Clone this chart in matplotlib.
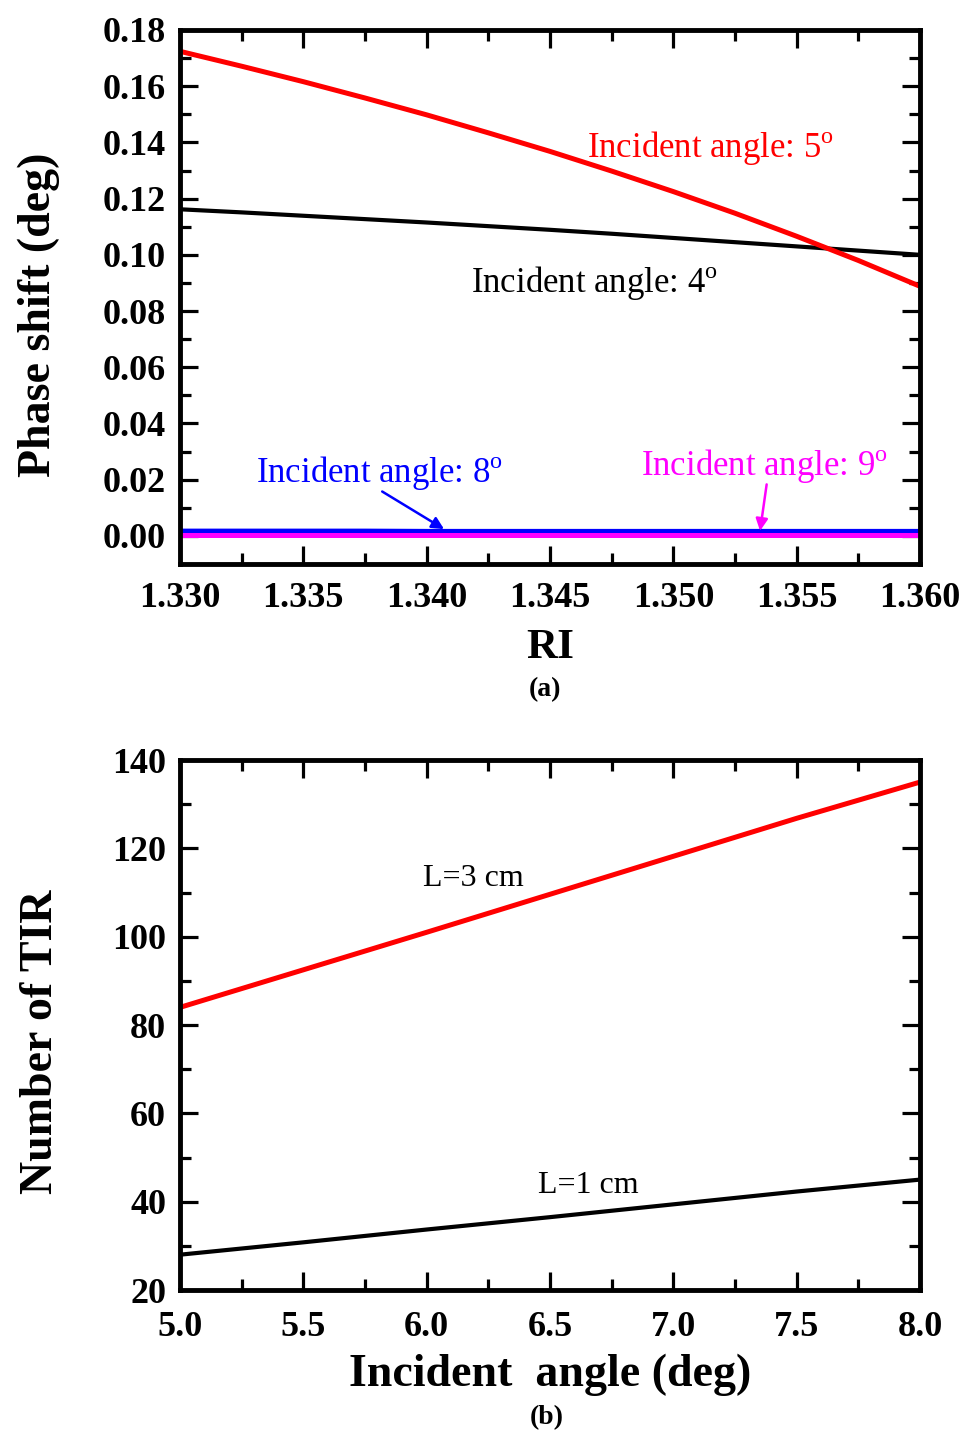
import numpy as np
import matplotlib
matplotlib.use("Agg")
import matplotlib.pyplot as plt
from matplotlib.ticker import MultipleLocator, FormatStrFormatter

plt.rcParams['font.family'] = ['Liberation Serif', 'DejaVu Serif']
plt.rcParams['mathtext.fontset'] = 'custom'
plt.rcParams['mathtext.rm'] = 'Liberation Serif'

# (a) phase shift vs refractive index
ri = [1.3300, 1.3325, 1.3350, 1.3375, 1.3400, 1.3425, 1.3450,
      1.3475, 1.3500, 1.3525, 1.3550, 1.3575, 1.3600]
phase_4 = [0.1162, 0.1151, 0.1139, 0.1127, 0.1115, 0.1102, 0.1089,
           0.1075, 0.1060, 0.1045, 0.1030, 0.1015, 0.1000]
phase_5 = [0.1724, 0.1671, 0.1616, 0.1558, 0.1498, 0.1434, 0.1368,
           0.1298, 0.1225, 0.1148, 0.1066, 0.0980, 0.0888]
phase_8 = [0.0017, 0.0017, 0.0017, 0.0017, 0.0016, 0.0016, 0.0016,
           0.0016, 0.0016, 0.0016, 0.0016, 0.0016, 0.0016]
phase_9 = [0.0002, 0.0002, 0.0002, 0.0002, 0.0002, 0.0002, 0.0002,
           0.0002, 0.0002, 0.0002, 0.0002, 0.0002, 0.0002]

# (b) number of total internal reflections vs incident angle
angle = [5.0, 5.5, 6.0, 6.5, 7.0, 7.5, 8.0]
tir_3cm = [84.0, 92.5, 101.0, 109.6, 118.2, 126.8, 135.0]
tir_1cm = [28.0, 30.8, 33.7, 36.5, 39.4, 42.3, 45.0]

fig = plt.figure(figsize=(9.69, 14.34), dpi=100)
ax1 = fig.add_axes([0.1858, 0.6067, 0.7636, 0.3724])
ax2 = fig.add_axes([0.1858, 0.1004, 0.7636, 0.3696])


def style(ax):
    for s in ax.spines.values():
        s.set_linewidth(3.5)
    ax.tick_params(which='both', direction='in', top=True, right=True,
                   width=2.3, labelsize=26, pad=10)
    ax.tick_params(which='major', length=13)
    ax.tick_params(which='minor', length=8)
    for lab in ax.get_xticklabels() + ax.get_yticklabels():
        lab.set_fontweight('bold')


ax1.plot(ri, phase_4, color='black', lw=3)
ax1.plot(ri, phase_5, color='#ff0000', lw=3.6)
ax1.plot(ri, phase_8, color='#0000ff', lw=3.6)
ax1.plot(ri, phase_9, color='#ff00ff', lw=3.6)
ax1.set_xlim(1.330, 1.360)
ax1.set_ylim(-0.01, 0.18)
ax1.set_xticks([1.330, 1.335, 1.340, 1.345, 1.350, 1.355, 1.360])
ax1.set_xticklabels(['1.330', '1.335', '1.340', '1.345', '1.350', '1.355', '1.360'])
ax1.xaxis.set_minor_locator(MultipleLocator(0.0025))
ax1.set_yticks(np.arange(0, 0.181, 0.02))
ax1.set_yticklabels(['%.2f' % v for v in np.arange(0, 0.181, 0.02)])
ax1.yaxis.set_minor_locator(MultipleLocator(0.01))
style(ax1)
ax1.tick_params(axis='x', pad=13)
ax1.set_xlabel('RI', fontsize=31, fontweight='bold', labelpad=10)
ax1.set_ylabel('Phase shift (deg)', fontsize=33, fontweight='bold')
ax1.yaxis.set_label_coords(-0.162, 0.466)

deg = r'$^{\mathregular{o}}$'
ax1.text(1.3465, 0.1347, 'Incident angle: 5' + deg, color='#ff0000', fontsize=25)
ax1.text(1.3418, 0.0869, 'Incident angle: 4' + deg, color='black', fontsize=25)
ax1.text(1.3331, 0.0190, 'Incident angle: 8' + deg, color='#0000ff', fontsize=25)
ax1.text(1.3487, 0.0215, 'Incident angle: 9' + deg, color='#ff00ff', fontsize=25)
ax1.annotate('', xy=(1.3408, 0.0019), xytext=(1.3381, 0.0163),
             arrowprops=dict(arrowstyle='-|>', color='#0000ff', lw=1.8,
                             mutation_scale=18))
ax1.annotate('', xy=(1.3535, 0.0008), xytext=(1.3538, 0.0193),
             arrowprops=dict(arrowstyle='-|>', color='#ff00ff', lw=1.8,
                             mutation_scale=18))

ax2.plot(angle, tir_3cm, color='#ff0000', lw=3.6)
ax2.plot(angle, tir_1cm, color='black', lw=3)
ax2.set_xlim(5.0, 8.0)
ax2.set_ylim(20, 140)
ax2.xaxis.set_major_locator(MultipleLocator(0.5))
ax2.xaxis.set_minor_locator(MultipleLocator(0.25))
ax2.yaxis.set_major_locator(MultipleLocator(20))
ax2.yaxis.set_minor_locator(MultipleLocator(10))
ax2.xaxis.set_major_formatter(FormatStrFormatter('%.1f'))
style(ax2)
ax2.tick_params(axis='x', pad=15)
ax2.set_xlabel('Incident  angle (deg)', fontsize=33, fontweight='bold', labelpad=7)
ax2.set_ylabel('Number of TIR', fontsize=33, fontweight='bold')
ax2.yaxis.set_label_coords(-0.160, 0.468)
ax2.text(5.986, 111.5, 'L=3 cm', fontsize=23)
ax2.text(6.453, 42.0, 'L=1 cm', fontsize=23)

fig.text(0.5625, 1 - 690 / 1434, '(a)', fontsize=20, fontweight='bold',
         ha='center', va='center')
fig.text(0.5645, 1 - 1418 / 1434, '(b)', fontsize=20, fontweight='bold',
         ha='center', va='center')

fig.savefig('out.png', dpi=100)
